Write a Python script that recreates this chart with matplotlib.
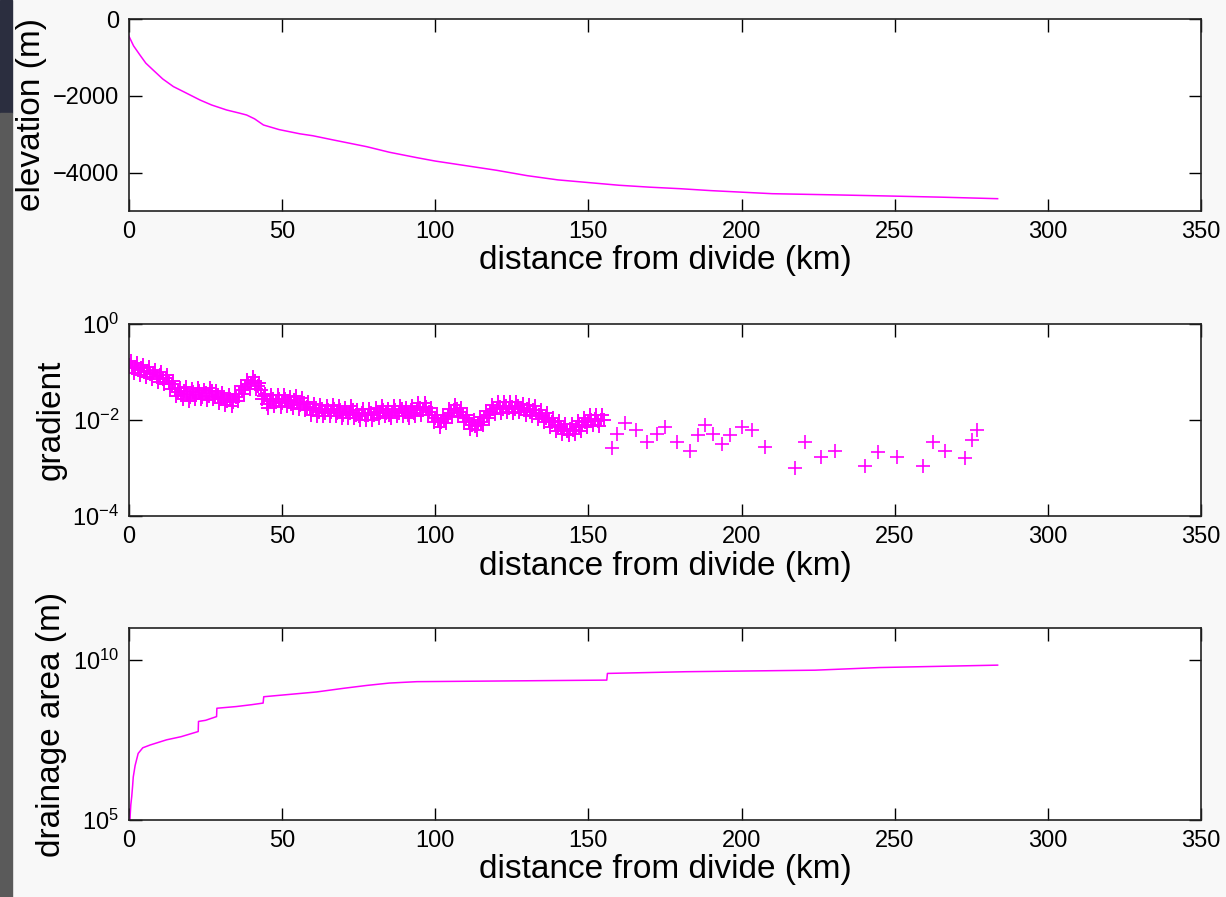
import numpy as np
import matplotlib.pyplot as plt
from matplotlib.patches import Rectangle

plt.rcParams['font.family'] = ['Liberation Sans', 'DejaVu Sans']
plt.rcParams['mathtext.fontset'] = 'custom'
plt.rcParams['mathtext.rm'] = 'Liberation Sans'
plt.rcParams['mathtext.it'] = 'Liberation Sans'

# elevation profile (km, m)
elev_km = [0, 0.3, 1.5, 3.6, 5.5, 7.9, 11, 14.5, 18, 23.2, 27, 31.9, 36, 38.4, 41,
           43.9, 49, 55.8, 60, 66.7, 77.6, 85, 93.9, 100, 110, 120, 130, 140, 150,
           160, 170, 180, 190, 200, 210, 220, 230, 248, 265, 283.6]
elev_m = [-450, -500, -700, -940, -1150, -1330, -1560, -1760, -1900, -2110, -2240,
          -2370, -2450, -2500, -2600, -2760, -2880, -2990, -3040, -3150, -3325,
          -3470, -3610, -3700, -3820, -3940, -4080, -4190, -4260, -4330, -4380,
          -4420, -4470, -4510, -4550, -4565, -4580, -4610, -4640, -4680]

# gradient, dense part: one value per km from 0 to 155
grad_dense = [0.14, 0.12, 0.13, 0.11, 0.12, 0.10, 0.105, 0.09, 0.095, 0.08,
              0.085, 0.07, 0.075, 0.06, 0.055, 0.045, 0.038, 0.033, 0.04, 0.035,
              0.03, 0.038, 0.033, 0.04, 0.03, 0.036, 0.032, 0.04, 0.03, 0.033,
              0.027, 0.03, 0.025, 0.028, 0.024, 0.03, 0.035, 0.042, 0.048, 0.055,
              0.06, 0.065, 0.05, 0.042, 0.032, 0.022, 0.025, 0.028, 0.024, 0.027,
              0.023, 0.028, 0.025, 0.022, 0.026, 0.024, 0.021, 0.023, 0.019, 0.018,
              0.016, 0.018, 0.015, 0.017, 0.014, 0.016, 0.015, 0.017, 0.014, 0.016,
              0.013, 0.015, 0.014, 0.016, 0.013, 0.012, 0.014, 0.013, 0.0125, 0.014,
              0.013, 0.015, 0.014, 0.016, 0.014, 0.013, 0.015, 0.016, 0.014, 0.017,
              0.015, 0.013, 0.016, 0.014, 0.017, 0.018, 0.016, 0.019, 0.015, 0.013,
              0.011, 0.0095, 0.009, 0.0105, 0.012, 0.014, 0.016, 0.017, 0.015, 0.013,
              0.011, 0.009, 0.008, 0.0075, 0.0085, 0.009, 0.011, 0.013, 0.015, 0.017,
              0.018, 0.019, 0.017, 0.02, 0.018, 0.019, 0.017, 0.02, 0.018, 0.016,
              0.017, 0.015, 0.016, 0.014, 0.013, 0.012, 0.011, 0.010, 0.009, 0.008,
              0.0075, 0.007, 0.0065, 0.006, 0.0065, 0.0063, 0.007, 0.0075, 0.008, 0.009,
              0.0095, 0.010, 0.0105, 0.0095, 0.010, 0.0098]
grad_dense_km = np.arange(len(grad_dense))

# gradient, dense part: values between the whole km (0.5 to 154.5)
grad_half = [0.17, 0.095, 0.155, 0.088, 0.14, 0.077, 0.125, 0.07, 0.112, 0.063,
             0.1, 0.055, 0.087, 0.044, 0.064, 0.032, 0.046, 0.028, 0.048, 0.025,
             0.044, 0.027, 0.047, 0.027, 0.043, 0.026, 0.046, 0.027, 0.041, 0.023,
             0.037, 0.021, 0.034, 0.02, 0.035, 0.025, 0.05, 0.035, 0.068, 0.045,
             0.08, 0.045, 0.06, 0.028, 0.035, 0.018, 0.034, 0.02, 0.033, 0.019,
             0.033, 0.02, 0.03, 0.018, 0.032, 0.017, 0.029, 0.016, 0.024, 0.013,
             0.022, 0.012, 0.021, 0.012, 0.02, 0.012, 0.021, 0.012, 0.02, 0.011,
             0.018, 0.011, 0.02, 0.011, 0.016, 0.01, 0.017, 0.01, 0.017, 0.01,
             0.018, 0.011, 0.02, 0.012, 0.017, 0.011, 0.02, 0.012, 0.02, 0.012,
             0.018, 0.011, 0.02, 0.012, 0.023, 0.013, 0.023, 0.013, 0.018, 0.009,
             0.013, 0.0072, 0.0127, 0.0087, 0.017, 0.0115, 0.021, 0.0123, 0.018, 0.0092,
             0.013, 0.0065, 0.01, 0.0062, 0.0114, 0.0077, 0.0156, 0.0108, 0.021, 0.0135,
             0.024, 0.014, 0.024, 0.0146, 0.024, 0.0139, 0.024, 0.0146, 0.022, 0.0127,
             0.021, 0.012, 0.0195, 0.0104, 0.016, 0.0089, 0.0137, 0.0073, 0.011, 0.006,
             0.0094, 0.0052, 0.0081, 0.0048, 0.0083, 0.0051, 0.0094, 0.006, 0.011, 0.0071,
             0.0127, 0.0079, 0.013, 0.0075, 0.0129]
grad_half_km = np.arange(len(grad_half)) + 0.5

# gradient, sparse part
grad_sparse_km = [157.6, 159.2, 162.0, 165.7, 169.0, 172.3, 175.0, 178.8, 183.2,
                  185.9, 188.1, 190.8, 193.5, 196.2, 200.0, 203.3, 207.7, 217.4,
                  220.7, 226.1, 230.5, 240.3, 244.6, 250.6, 259.3, 262.6, 266.4,
                  272.9, 275.1, 276.8]
grad_sparse = [0.0026, 0.0052, 0.0085, 0.0062, 0.0035, 0.0052, 0.0072, 0.0035,
               0.0023, 0.0049, 0.0079, 0.0052, 0.0032, 0.0049, 0.0072, 0.0062,
               0.0028, 0.0010, 0.0035, 0.0017, 0.0023, 0.0011, 0.0022, 0.0017,
               0.0011, 0.0035, 0.0023, 0.0016, 0.0038, 0.0062]

# drainage area (km, m^2)
area_km = [0.3, 0.6, 0.9, 1.2, 1.4, 2.0, 3.0, 4.5, 6.9, 12.3, 17, 22.6, 22.7, 25,
           28.6, 28.7, 35, 40, 43.8, 44.0, 50, 61.2, 70, 77.6, 85, 94, 120, 156,
           156.2, 182, 224, 245, 283.6]
area_m2 = [1.0e5, 3.0e5, 5.4e5, 1.2e6, 2.2e6, 5.0e6, 1.2e7, 1.8e7, 2.2e7, 3.2e7,
           4.0e7, 5.8e7, 1.2e8, 1.3e8, 1.7e8, 3.1e8, 3.5e8, 4.0e8, 4.5e8, 7.1e8,
           8.0e8, 1.0e9, 1.3e9, 1.6e9, 1.9e9, 2.1e9, 2.2e9, 2.35e9, 3.8e9, 4.3e9,
           4.8e9, 5.8e9, 6.9e9]

xticks = [0, 50, 100, 150, 200, 250, 300, 350]
col = '#ff00ff'

fig = plt.figure(figsize=(12.26, 8.97), dpi=100, facecolor='#f8f8f8')

# screenshot edge on the left
fig.patches.append(Rectangle((0, 1 - 113 / 897), 12 / 1226, 113 / 897,
                             transform=fig.transFigure, color='#2b2e3f', zorder=0))
fig.patches.append(Rectangle((0, 0), 12 / 1226, 1 - 113 / 897,
                             transform=fig.transFigure, color='#5a5a5a', zorder=0))

ax1 = fig.add_axes([0.1052, 0.7648, 0.8744, 0.214])
ax2 = fig.add_axes([0.1052, 0.4247, 0.8744, 0.2141])
ax3 = fig.add_axes([0.1052, 0.0859, 0.8744, 0.214])

ax1.plot(elev_km, elev_m, color=col, lw=1.1)
ax1.set_ylim(-5000, 0)
ax1.set_yticks([-4000, -2000, 0])
ax1.set_ylabel('elevation (m)')

ax2.plot(grad_dense_km, grad_dense, '+', color=col, ms=10, mew=1.4)
ax2.plot(grad_half_km, grad_half, '+', color=col, ms=10, mew=1.4)
ax2.plot(grad_sparse_km, grad_sparse, '+', color=col, ms=10, mew=1.2)
ax2.set_yscale('log')
ax2.set_ylim(1e-4, 1)
ax2.set_yticks([1e-4, 1e-2, 1])
ax2.minorticks_off()
ax2.set_ylabel('gradient')

ax3.plot(area_km, area_m2, color=col, lw=1.1)
ax3.set_yscale('log')
ax3.set_ylim(1e5, 1e11)
ax3.set_yticks([1e5, 1e10])
ax3.minorticks_off()
ax3.set_ylabel('drainage area (m)')

for ax in (ax1, ax2, ax3):
    ax.set_xlim(0, 350)
    ax.set_xticks(xticks)
    ax.set_xlabel('distance from divide (km)', fontsize=24, labelpad=2)
    ax.yaxis.label.set_fontsize(24)
    ax.tick_params(direction='in', top=True, right=True, length=9, width=1,
                   labelsize=17, pad=7)
    for s in ax.spines.values():
        s.set_linewidth(1.2)
        s.set_color('#222222')

fig.savefig('out.png', dpi=100, facecolor=fig.get_facecolor())
